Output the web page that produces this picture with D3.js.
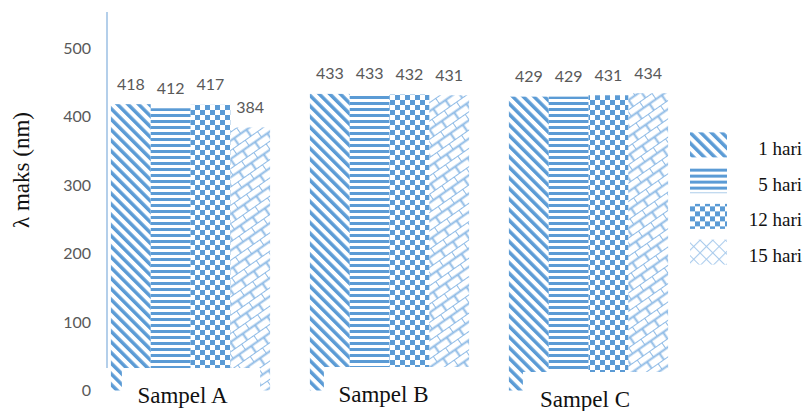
<!DOCTYPE html>
<html><head><meta charset="utf-8">
<script src="https://cdn.jsdelivr.net/npm/d3@7"></script>
<style>html,body{margin:0;padding:0;background:#fff;}svg{display:block;}</style>
</head><body>
<script>
const categories = ["Sampel A", "Sampel B", "Sampel C"];
const seriesNames = ["1 hari", "5 hari", "12 hari", "15 hari"];
const hari1 = [418, 433, 429];
const hari5 = [412, 433, 429];
const hari12 = [417, 432, 431];
const hari15 = [384, 431, 434];
const yTicks = [0, 100, 200, 300, 400, 500];
const seriesValues = [hari1, hari5, hari12, hari15];

const W = 807, H = 411;
const blue = "#5b9bd5", light = "#8fbbe6", grey = "#595959";
const svg = d3.select("body").append("svg").attr("width", W).attr("height", H);
const defs = svg.append("defs");

// patterns
const p1 = defs.append("pattern").attr("id", "pat0").attr("patternUnits", "userSpaceOnUse")
  .attr("width", 7.5).attr("height", 7.5).attr("patternTransform", "rotate(-45)");
p1.append("rect").attr("width", 3.5).attr("height", 7.5).attr("fill", blue);

const p2 = defs.append("pattern").attr("id", "pat1").attr("patternUnits", "userSpaceOnUse")
  .attr("width", 6).attr("height", 6);
p2.append("rect").attr("y", 0).attr("width", 6).attr("height", 3).attr("fill", blue);

const p3 = defs.append("pattern").attr("id", "pat2").attr("patternUnits", "userSpaceOnUse")
  .attr("width", 10).attr("height", 10);
p3.append("rect").attr("width", 5).attr("height", 5).attr("fill", blue);
p3.append("rect").attr("x", 5).attr("y", 5).attr("width", 5).attr("height", 5).attr("fill", blue);

const bw = 15, bh = 7.5;
const p4 = defs.append("pattern").attr("id", "pat3").attr("patternUnits", "userSpaceOnUse")
  .attr("width", bw).attr("height", bh * 2).attr("patternTransform", "rotate(-35)");
p4.append("path").attr("d", `M0,0H${bw}M0,${bh}H${bw}M0,0V${bh}M${bw/2},${bh}V${bh*2}`)
  .attr("stroke", light).attr("stroke-width", 2).attr("fill", "none");

// legend crosshatch
const p5 = defs.append("pattern").attr("id", "patL3").attr("patternUnits", "userSpaceOnUse")
  .attr("width", 9).attr("height", 9).attr("patternTransform", "rotate(45)");
p5.append("path").attr("d", "M0,0H9M0,0V9").attr("stroke", "#a9cbec").attr("stroke-width", 2.2).attr("fill", "none");

const legendFills = ["url(#pat0)", "url(#pat1)", "url(#pat2)", "url(#patL3)"];

// scales
const x = d3.scaleBand().domain(categories).range([91, 688]).paddingInner(0.2).paddingOuter(0.1);
const xs = d3.scaleBand().domain(seriesNames).range([0, x.bandwidth()]);
const y = d3.scaleLinear().domain([0, 500]).range([390.5, 48]);

// bars
const rows = [];
categories.forEach((c, i) => seriesNames.forEach((s, j) => rows.push({c, s, j, v: seriesValues[j][i]})));

svg.append("g").selectAll("rect").data(rows).join("rect")
  .attr("x", d => x(d.c) + xs(d.s))
  .attr("y", d => y(d.v))
  .attr("width", xs.bandwidth())
  .attr("height", d => y(0) - y(d.v))
  .attr("fill", d => `url(#pat${d.j})`);

// data labels
svg.append("g").selectAll("text").data(rows).join("text")
  .attr("x", d => x(d.c) + xs(d.s) + xs.bandwidth() / 2)
  .attr("y", d => y(d.v) - 14.5)
  .attr("text-anchor", "middle")
  .attr("font-family", "Lato, 'Open Sans', sans-serif")
  .attr("font-size", 16)
  .attr("fill", grey)
  .text(d => d.v);

// white covers behind category labels (as in reference)
const covers = [
  {c: "Sampel A", l: 11, r: -10, top: 368},
  {c: "Sampel B", l: 14, r: 6, top: 367},
  {c: "Sampel C", l: 14, r: 6, top: 372}
];
svg.append("g").selectAll("rect").data(covers).join("rect")
  .attr("x", d => x(d.c) + d.l)
  .attr("y", d => d.top)
  .attr("width", d => x.bandwidth() - d.l + d.r)
  .attr("height", H - 366)
  .attr("fill", "#fff");

// y axis line
svg.append("line").attr("x1", 107).attr("x2", 107).attr("y1", 12).attr("y2", 368)
  .attr("stroke", "#b4cfea").attr("stroke-width", 2);

// y tick labels
svg.append("g").selectAll("text").data(yTicks).join("text")
  .attr("x", 91).attr("y", d => y(d))
  .attr("dy", "0.35em")
  .attr("text-anchor", "end")
  .attr("font-family", "Lato, 'Open Sans', sans-serif")
  .attr("font-size", 16)
  .attr("fill", grey)
  .text(d => d);

// category labels
const catY = [403, 402, 407];
const catDx = [-8, -6, -3.5];
svg.append("g").selectAll("text").data(categories).join("text")
  .attr("x", (d, i) => x(d) + x.bandwidth() / 2 + catDx[i])
  .attr("y", (d, i) => catY[i])
  .attr("text-anchor", "middle")
  .attr("font-family", "'Liberation Serif', 'Times New Roman', serif")
  .attr("font-size", 23)
  .attr("fill", "#111")
  .text(d => d);

// y title
svg.append("text")
  .attr("transform", "translate(29,170) rotate(-90)")
  .attr("text-anchor", "middle")
  .attr("font-family", "'Liberation Serif', 'Times New Roman', serif")
  .attr("font-size", 23)
  .attr("fill", "#111")
  .text("λ maks (nm)");

// legend
const ly = d3.scaleBand().domain(seriesNames).range([127, 270]);
const leg = svg.append("g").selectAll("g").data(seriesNames).join("g")
  .attr("transform", d => `translate(0,${ly(d) + ly.bandwidth() / 2})`);
leg.append("rect").attr("x", 690).attr("y", -12.5).attr("width", 37).attr("height", 25)
  .attr("fill", (d, i) => legendFills[i]);
leg.append("text").attr("x", 802).attr("y", 10)
  .attr("text-anchor", "end")
  .attr("font-family", "'Liberation Serif', 'Times New Roman', serif")
  .attr("font-size", 19)
  .attr("fill", "#111")
  .text(d => d);
</script>
</body></html>
